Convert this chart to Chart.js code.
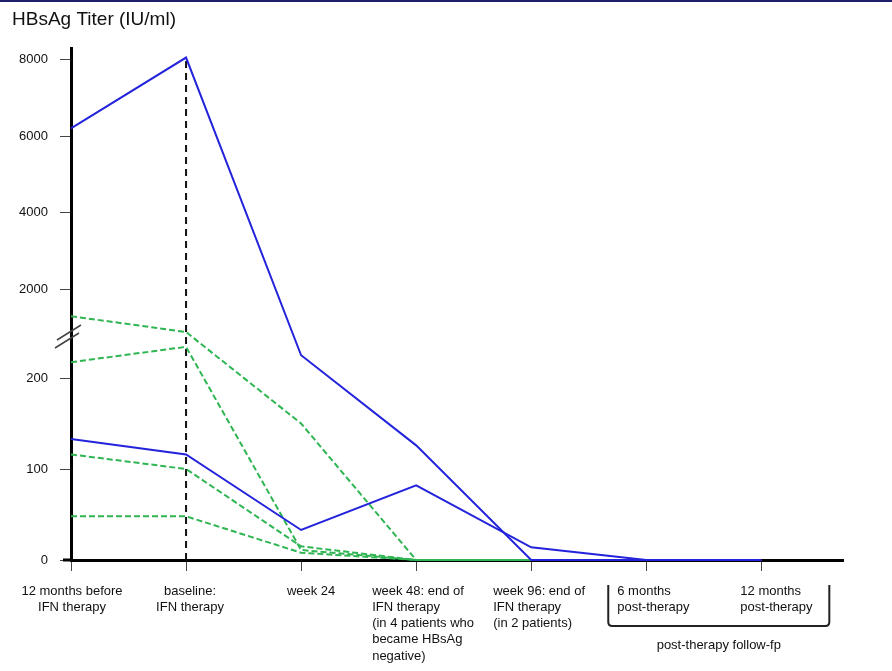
<!DOCTYPE html>
<html>
<head>
<meta charset="utf-8">
<title>HBsAg Titer</title>
<script src="https://cdn.jsdelivr.net/npm/chart.js@4"></script>
<style>
  body { margin: 0; background: #fff; }
  .wrap { width: 892px; height: 671px; position: relative; }
</style>
</head>
<body>
<div class="wrap"><canvas id="chart" width="892" height="671"></canvas></div>
<script>
const categories = [
	['12 months before', 'IFN therapy'],
	['baseline:', 'IFN therapy'],
	['week 24'],
	['week 48: end of', 'IFN therapy', '(in 4 patients who', 'became HBsAg', 'negative)'],
	['week 96: end of', 'IFN therapy', '(in 2 patients)'],
	['6 months', 'post-therapy'],
	['12 months', 'post-therapy'],
];
const yTicks = [0, 100, 200, 2000, 4000, 6000, 8000];

// solid blue: 2 patients, dashed green: 4 patients
const blue1 = [6200, 8050, 660, 126, 0, 0, 0];
const blue2 = [133, 116, 33, 82, 14, 0, 0];
const green1 = [1450, 1130, 150, 0, 0, null, null];
const green2 = [520, 830, 11, 0, 0, null, null];
const green3 = [116, 100, 15, 0, 0, null, null];
const green4 = [48, 48, 8, 0, 0, null, null];

// broken axis: 0-200 linear, break, 2000-8000 linear
function toAxis(v) {
	if (v == null) return null;
	if (v <= 200) return v * 0.91;
	if (v <= 2000) return 182 + (v - 200) * (89 / 1800);
	return 271 + (v - 2000) * 0.03825;
}

const pts = (arr) => arr.map((v, i) => ({ x: i, y: toAxis(v) }));

const blue = '#2323dc';
const green = '#2fb552';
const textColor = '#111';

const lineSet = (arr, color, dashed) => ({
	data: pts(arr),
	borderColor: color,
	borderWidth: 2,
	borderDash: dashed ? [6, 3] : [],
	pointRadius: 0,
	tension: 0,
	clip: false,
	spanGaps: false,
});

const labelPos = [
	{ align: 'center', dx: 1 },
	{ align: 'center', dx: 4 },
	{ align: 'center', dx: 10 },
	{ align: 'left', dx: -44 },
	{ align: 'left', dx: -38 },
	{ align: 'left', dx: -29 },
	{ align: 'left', dx: -21 },
];

const extras = {
	id: 'extras',
	afterDraw(chart) {
		const ctx = chart.ctx;
		const xs = chart.scales.x;
		ctx.save();
		// top rule
		ctx.fillStyle = '#1f1f6b';
		ctx.fillRect(0, 0, chart.width, 2);
		// title
		ctx.fillStyle = textColor;
		ctx.font = '19px Arial, "Liberation Sans", sans-serif';
		ctx.textBaseline = 'middle';
		ctx.textAlign = 'left';
		ctx.fillText('HBsAg Titer (IU/ml)', 12, 20);
		// x labels
		ctx.font = '13px Arial, "Liberation Sans", sans-serif';
		categories.forEach((lines, i) => {
			const px = xs.getPixelForValue(i) + labelPos[i].dx;
			ctx.textAlign = labelPos[i].align;
			lines.forEach((t, j) => ctx.fillText(t, px, 591 + j * 16.3));
		});
		// axis break marks
		ctx.strokeStyle = '#444';
		ctx.lineWidth = 1.5;
		ctx.beginPath();
		ctx.moveTo(57, 340); ctx.lineTo(81, 325);
		ctx.moveTo(55, 348); ctx.lineTo(79, 333);
		ctx.stroke();
		// short stub of the x axis left of the y axis
		ctx.fillStyle = '#000';
		ctx.fillRect(63, 558.5, 8, 3);
		// bracket for follow-up
		const l = xs.getPixelForValue(5) - 38;
		const r = xs.getPixelForValue(6) + 68;
		ctx.strokeStyle = '#222';
		ctx.lineWidth = 2;
		ctx.beginPath();
		ctx.moveTo(l, 585);
		ctx.lineTo(l, 622);
		ctx.quadraticCurveTo(l, 626, l + 4, 626);
		ctx.lineTo(r - 4, 626);
		ctx.quadraticCurveTo(r, 626, r, 622);
		ctx.lineTo(r, 585);
		ctx.stroke();
		ctx.fillStyle = textColor;
		ctx.textAlign = 'center';
		ctx.fillText('post-therapy follow-fp', (l + r) / 2, 645);
		ctx.restore();
	},
};

new Chart(document.getElementById('chart'), {
	type: 'line',
	data: {
		datasets: [
			lineSet(blue1, blue, false),
			lineSet(blue2, blue, false),
			lineSet(green1, green, true),
			lineSet(green2, green, true),
			lineSet(green3, green, true),
			lineSet(green4, green, true),
			{
				data: [{ x: 1, y: 0 }, { x: 1, y: toAxis(blue1[1]) }],
				borderColor: '#111',
				borderWidth: 2,
				borderDash: [7, 5],
				pointRadius: 0,
				clip: false,
			},
		],
	},
	options: {
		responsive: false,
		animation: false,
		layout: { padding: { top: 48, left: 0, right: 49, bottom: 0 } },
		scales: {
			x: {
				type: 'linear',
				min: 0,
				max: 6.71,
				afterBuildTicks: (s) => {
					s.ticks = categories.map((c, i) => ({ value: i }));
				},
				afterFit: (s) => {
					s.height = 111;
				},
				ticks: { display: false },
				border: { display: true, width: 3, color: '#000' },
				grid: { drawOnChartArea: false, drawTicks: true, tickLength: 11, color: '#444' },
			},
			y: {
				type: 'linear',
				min: 0,
				max: 512,
				afterBuildTicks: (s) => {
					s.ticks = yTicks.map((v) => ({ value: toAxis(v) }));
				},
				afterFit: (s) => {
					s.width = 71;
				},
				ticks: {
					callback: (val, i) => yTicks[i],
					color: textColor,
					padding: 12,
					font: { family: 'Arial, "Liberation Sans", sans-serif', size: 13 },
				},
				border: { display: true, width: 3, color: '#000' },
				grid: { drawOnChartArea: false, drawTicks: true, tickLength: 11, color: '#444' },
			},
		},
		plugins: {
			legend: { display: false },
			tooltip: { enabled: false },
		},
	},
	plugins: [extras],
});
</script>
</body>
</html>
